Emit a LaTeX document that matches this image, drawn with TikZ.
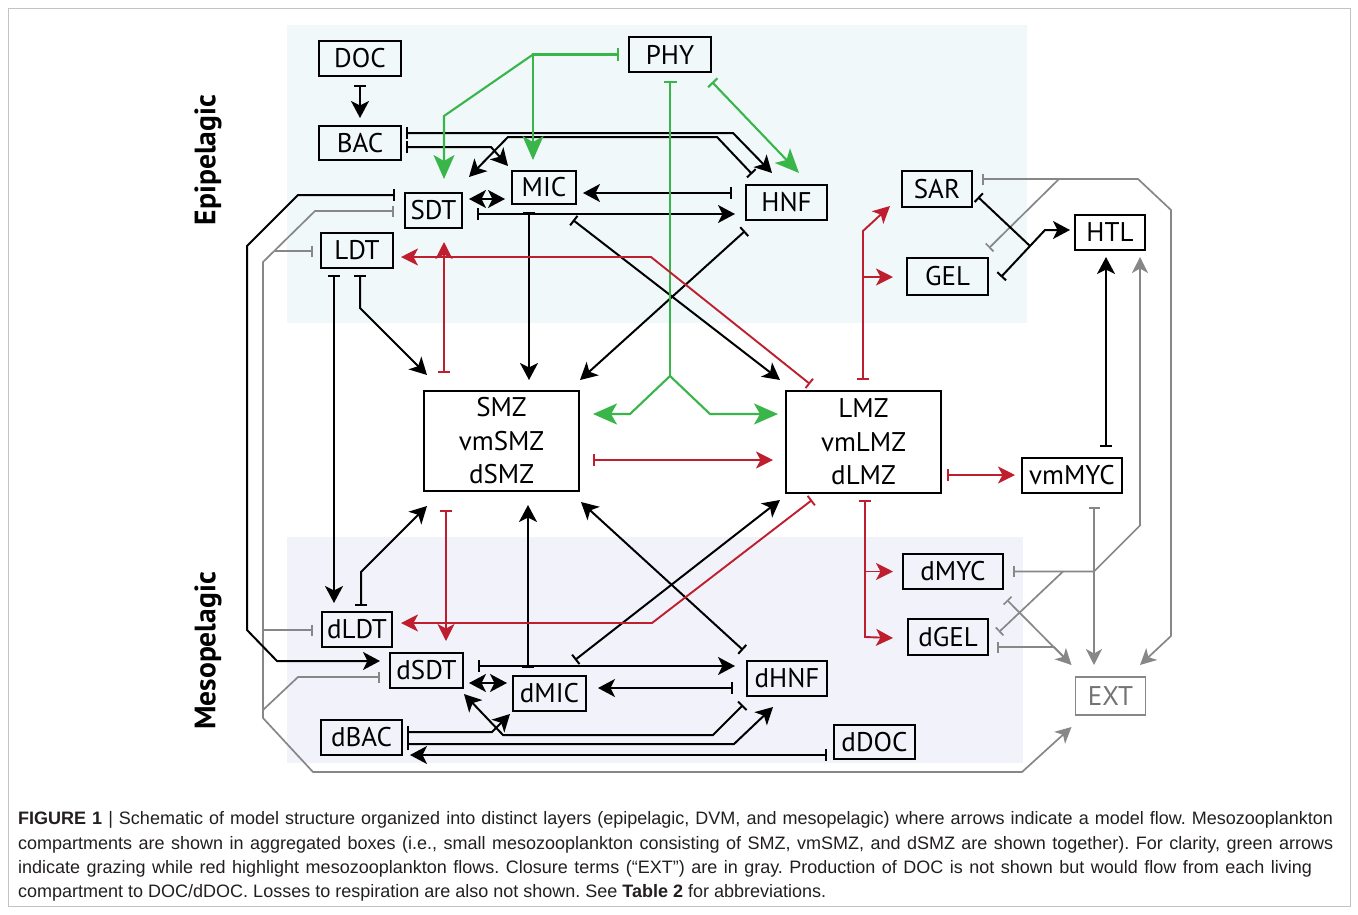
\documentclass[tikz,border=0pt]{standalone}
\usepackage{fontspec}
\setmainfont{Liberation Sans}
\newfontfamily\boxfont{PT Sans}
\newfontfamily\capfont{Liberation Sans}
\usetikzlibrary{arrows.meta,calc}
\definecolor{cgreen}{RGB}{57,181,74}
\definecolor{cred}{RGB}{190,30,45}
\definecolor{cgray}{RGB}{135,135,135}
\definecolor{epibg}{RGB}{241,248,250}
\definecolor{mesobg}{RGB}{242,243,250}
\definecolor{frameclr}{RGB}{195,195,195}
\definecolor{captext}{RGB}{35,31,32}
\frenchspacing
\begin{document}
\begin{tikzpicture}[x=1pt,y=-1pt,
  kline/.style={draw=black,line width=2pt},
  gline/.style={draw=cgreen,line width=2.1pt},
  rline/.style={draw=cred,line width=1.9pt},
  yline/.style={draw=cgray,line width=1.7pt},
  kba/.style={arrows={Bar[width=12pt]-Stealth[length=17pt,width=18pt,inset=4.5pt]}},
  kaa/.style={arrows={Stealth[length=17pt,width=18pt,inset=4.5pt]-Stealth[length=17pt,width=18pt,inset=4.5pt]}},
  kbn/.style={arrows={Bar[width=12pt]-}},
  gba/.style={arrows={Bar[width=13pt]-Stealth[length=24pt,width=21pt,inset=6pt]}},
  gna/.style={arrows={-Stealth[length=24pt,width=21pt,inset=6pt]}},
  gbn/.style={arrows={Bar[width=13pt]-}},
  rba/.style={arrows={Bar[width=12pt]-Stealth[length=17pt,width=17pt,inset=4.5pt]}},
  rna/.style={arrows={-Stealth[length=17pt,width=17pt,inset=4.5pt]}},
  yba/.style={arrows={Bar[width=11pt]-Stealth[length=16pt,width=16pt,inset=4.5pt]}},
  ybn/.style={arrows={Bar[width=11pt]-}},
  box/.style={draw=black,line width=1.9pt,inner sep=0pt,text=black,
    font=\boxfont\fontsize{27}{32}\selectfont},
  bigbox/.style={box,align=center,font=\boxfont\fontsize{27}{33.5}\selectfont},
  extbox/.style={box,draw=cgray,text=cgray!85!black,line width=1.7pt},
  layer/.style={rotate=90,font=\boxfont\bfseries\fontsize{29.5}{34}\selectfont},
  capline/.style={anchor=base west,inner sep=0pt,text=captext,
    font=\capfont\fontsize{18}{22}\selectfont}
]
\useasboundingbox (0,0) rectangle (1358,914);
\fill[white] (0,0) rectangle (1358,914);
\draw[frameclr,line width=1pt] (8,8) rectangle (1350,906);
\fill[epibg] (287,25) rectangle (1027,323);
\fill[mesobg] (287,537) rectangle (1023,763);

% layer labels
\node[layer] (epi) at (208,160) {Epipelagic};
\node[layer] (meso) at (208,651) {Mesopelagic};

% boxes
\node[box,minimum width=82pt,minimum height=35pt] (DOC) at (360,58.5) {DOC};
\node[box,minimum width=82pt,minimum height=34pt] (BAC) at (360,143) {BAC};
\node[box,minimum width=82pt,minimum height=35pt] (PHY) at (670,54.5) {PHY};
\node[box,minimum width=57pt,minimum height=35pt] (SDT) at (433.5,210.5) {SDT};
\node[box,minimum width=64pt,minimum height=33pt] (MIC) at (544,187.5) {MIC};
\node[box,minimum width=81pt,minimum height=35pt] (HNF) at (786.5,202.5) {HNF};
\node[box,minimum width=72pt,minimum height=35pt] (LDT) at (357,250.5) {LDT};
\node[box,minimum width=70pt,minimum height=36pt] (SAR) at (937,189) {SAR};
\node[box,minimum width=81pt,minimum height=37pt] (GEL) at (947.5,276.5) {GEL};
\node[box,minimum width=70pt,minimum height=35pt] (HTL) at (1110,232.5) {HTL};
\node[bigbox,minimum width=155pt,minimum height=100pt] (SMZ) at (501.5,441) {SMZ\\vmSMZ\\dSMZ};
\node[bigbox,minimum width=155pt,minimum height=102pt] (LMZ) at (863.5,442) {LMZ\\vmLMZ\\dLMZ};
\node[box,minimum width=100pt,minimum height=35pt] (vmMYC) at (1072,475.5) {vmMYC};
\node[box,minimum width=100pt,minimum height=35pt] (dMYC) at (953,571.5) {dMYC};
\node[box,minimum width=80pt,minimum height=36pt] (dGEL) at (948,637) {dGEL};
\node[extbox,minimum width=70pt,minimum height=38pt] (EXT) at (1110.5,696) {EXT};
\node[box,minimum width=70pt,minimum height=35pt] (dLDT) at (357,629.5) {dLDT};
\node[box,minimum width=73pt,minimum height=35pt] (dSDT) at (426.5,670.5) {dSDT};
\node[box,minimum width=73pt,minimum height=35pt] (dMIC) at (549.5,693.5) {dMIC};
\node[box,minimum width=80pt,minimum height=35pt] (dHNF) at (787,678.5) {dHNF};
\node[box,minimum width=81pt,minimum height=35pt] (dBAC) at (361.5,737.5) {dBAC};
\node[box,minimum width=81pt,minimum height=34pt] (dDOC) at (874.5,742) {dDOC};

% ---------------- gray closure lines
\draw[yline, yba] ($(SDT)+(-39.5,0.5)$) -- (315,211) -- (263,262) -- (263,718) -- (313,772) -- (1022,772) -- ($(EXT)+(-39,31)$);
\draw[yline, ybn] ($(LDT)+(-44,0.5)$) -- (275,251);
\draw[yline, ybn] ($(dLDT)+(-44,0.5)$) -- (263,630);
\draw[yline, ybn] ($(dSDT)+(-46.5,6.5)$) -- (298,677) -- (263,710);
\draw[yline, yba] ($(SAR)+(45,-10)$) -- (1138,179) -- (1171,210) -- (1171,636) -- ($(EXT)+(29.5,-31)$);
\draw[yline, ybn] ($(GEL)+(41.5,-28.5)$) -- (1059,179);
\draw[yline, yba] ($(vmMYC)+(22,31.5)$) -- ($(EXT)+(-16.5,-31)$);
\draw[yline, yba] ($(dMYC)+(60,0)$) -- (1094,571.5) -- (1140,525.5) -- ($(HTL)+(30,24.5)$);
\draw[yline, ybn] ($(dGEL)+(51,-5)$) -- (1063,571.5);
\draw[yline, yba] ($(dMYC)+(54,28.5)$) -- ($(EXT)+(-39,-31)$);
\draw[yline, ybn] ($(dGEL)+(49,10)$) -- (1054,647) -- (1064,657);

% ---------------- black flows (epipelagic)
\draw[kline, kba] ($(DOC)+(0,26.5)$) -- ($(BAC)+(0,-25)$);
\draw[kline, kba] ($(BAC)+(46,-10)$) -- (733,133) -- ($(HNF)+(-14.5,-29.5)$);
\draw[kline, kba] ($(BAC)+(46,4)$) -- (491,147) -- ($(MIC)+(-36,-21.5)$);
\draw[kline, kba] ($(HNF)+(-34.5,-28.5)$) -- (717,137) -- (508,137) -- ($(SDT)+(35.5,-33.5)$);
\draw[kline, kaa] ($(SDT)+(35.5,-11.5)$) -- ($(MIC)+(-39,11.5)$);
\draw[kline, kba] ($(SDT)+(43.5,3.5)$) -- ($(HNF)+(-51.5,11.5)$);
\draw[kline, kba] ($(HNF)+(-54.5,-9.5)$) -- ($(MIC)+(39,5.5)$);
\draw[kline, kba] ($(MIC)+(-15,24.5)$) -- ($(SMZ)+(27.5,-61)$);
\draw[kline, kba] ($(MIC)+(29,32.5)$) -- ($(LMZ)+(-83.5,-62)$);
\draw[kline, kba] ($(HNF)+(-41.5,28.5)$) -- ($(SMZ)+(78.5,-61)$);
\draw[kline, kba] ($(LDT)+(3,24.5)$) -- (360,308) -- ($(SMZ)+(-74.5,-66)$);
\draw[kline, kba] ($(LDT)+(-23,24.5)$) -- ($(dLDT)+(-23,-26.5)$);
\draw[kline, kba] ($(SDT)+(-38.5,-15.5)$) -- (298,195) -- (247,246) -- (247,630) -- (277,661) -- ($(dSDT)+(-46.5,-9.5)$);
\draw[kline, kbn] ($(SAR)+(41,8)$) -- (1030,246);
\draw[kline, kba] ($(GEL)+(53.5,0.5)$) -- (1045,230) -- ($(HTL)+(-40,-2.5)$);
\draw[kline, kba] ($(vmMYC)+(34,-28.5)$) -- ($(HTL)+(-4,24.5)$);

% ---------------- black flows (mesopelagic)
\draw[kline, kba] ($(dLDT)+(4,-23.5)$) -- (361,572) -- ($(SMZ)+(-74.5,65)$);
\draw[kline, kba] ($(dMIC)+(-21.5,-25.5)$) -- ($(SMZ)+(26.5,64)$);
\draw[kline, kba] ($(dHNF)+(-44,-28.5)$) -- ($(SMZ)+(79.5,61)$);
\draw[kline, kba] ($(dMIC)+(25.5,-33.5)$) -- ($(LMZ)+(-83.5,58)$);
\draw[kline, kba] ($(dSDT)+(51.5,-4.5)$) -- ($(dHNF)+(-52,-12.5)$);
\draw[kline, kba] ($(dHNF)+(-54,9.5)$) -- ($(dMIC)+(48.5,-5.5)$);
\draw[kline, kaa] ($(dSDT)+(42.5,12.5)$) -- ($(dMIC)+(-42.5,-10.5)$);
\draw[kline, kba] ($(dBAC)+(45.5,-5.5)$) -- (492,732) -- ($(dMIC)+(-39.5,20.5)$);
\draw[kline, kba] ($(dHNF)+(-44,26.5)$) -- (713,735) -- (503,735) -- ($(dSDT)+(37.5,23.5)$);
\draw[kline, kba] ($(dBAC)+(45.5,6.5)$) -- (734,744) -- ($(dHNF)+(-14,28.5)$);
\draw[kline, kba] ($(dDOC)+(-47.5,13)$) -- ($(dBAC)+(48.5,17.5)$);

% ---------------- green grazing
\coordinate (gj) at (533,54.5);
\coordinate (gk) at (670,376);
\draw[gline, gba] ($(PHY)+(-51,0)$) -- (gj) -- ($(MIC)+(-11,-27.5)$);
\draw[gline, gna] (gj) -- (444,116) -- ($(SDT)+(10.5,-31.5)$);
\draw[gline, gba] ($(PHY)+(42,27.5)$) -- ($(HNF)+(12.5,-29.5)$);
\draw[gline, gbn] ($(PHY)+(0,26.5)$) -- (gk);
\draw[gline, gna] (gk) -- (630,414) -- ($(SMZ)+(91.5,-27)$);
\draw[gline, gna] (gk) -- (710,414) -- ($(LMZ)+(-85.5,-28)$);

% ---------------- red mesozooplankton flows
\draw[rline, rba] ($(SMZ)+(-57.5,-68)$) -- ($(SDT)+(10.5,31.5)$);
\draw[rline, rba] ($(LMZ)+(-53.5,-58)$) -- (651,257) -- ($(LDT)+(44,6.5)$);
\draw[rline, rba] ($(LMZ)+(-0.5,-62)$) -- (863,231) -- ($(SAR)+(-47,17)$);
\draw[rline, rna] (863,277) -- ($(GEL)+(-54.5,0.5)$);
\draw[rline, rba] ($(SMZ)+(91.5,19)$) -- ($(LMZ)+(-90.5,18)$);
\draw[rline, rba] ($(LMZ)+(83.5,33)$) -- ($(vmMYC)+(-57,-0.5)$);
\draw[rline, rba] ($(SMZ)+(-55.5,69)$) -- ($(dSDT)+(19.5,-29.5)$);
\draw[rline, rba] ($(LMZ)+(-51.5,58)$) -- (652,623) -- ($(dLDT)+(44,-6.5)$);
\draw[rline, rba] ($(LMZ)+(1.5,58)$) -- (865,637) -- ($(dGEL)+(-55,1)$);
\draw[rline, rna] (865,571.5) -- ($(dMYC)+(-60,0)$);

% ---------------- caption
\node[capline] (cap1) at (18,824) {\makebox[1315pt][s]{\textbf{FIGURE 1} | Schematic of model structure organized into distinct layers (epipelagic, DVM, and mesopelagic) where arrows indicate a model flow. Mesozooplankton}};
\node[capline] (cap2) at (18,849) {\makebox[1315pt][s]{compartments are shown in aggregated boxes (i.e., small mesozooplankton consisting of SMZ, vmSMZ, and dSMZ are shown together). For clarity, green arrows}};
\node[capline] (cap3) at (18,873) {\makebox[1294pt][s]{indicate grazing while red highlight mesozooplankton flows. Closure terms (“EXT”) are in gray. Production of DOC is not shown but would flow from each living}};
\node[capline] (cap4) at (18,897) {compartment to DOC/dDOC. Losses to respiration are also not shown. See \textbf{Table 2} for abbreviations.};
\end{tikzpicture}
\end{document}
